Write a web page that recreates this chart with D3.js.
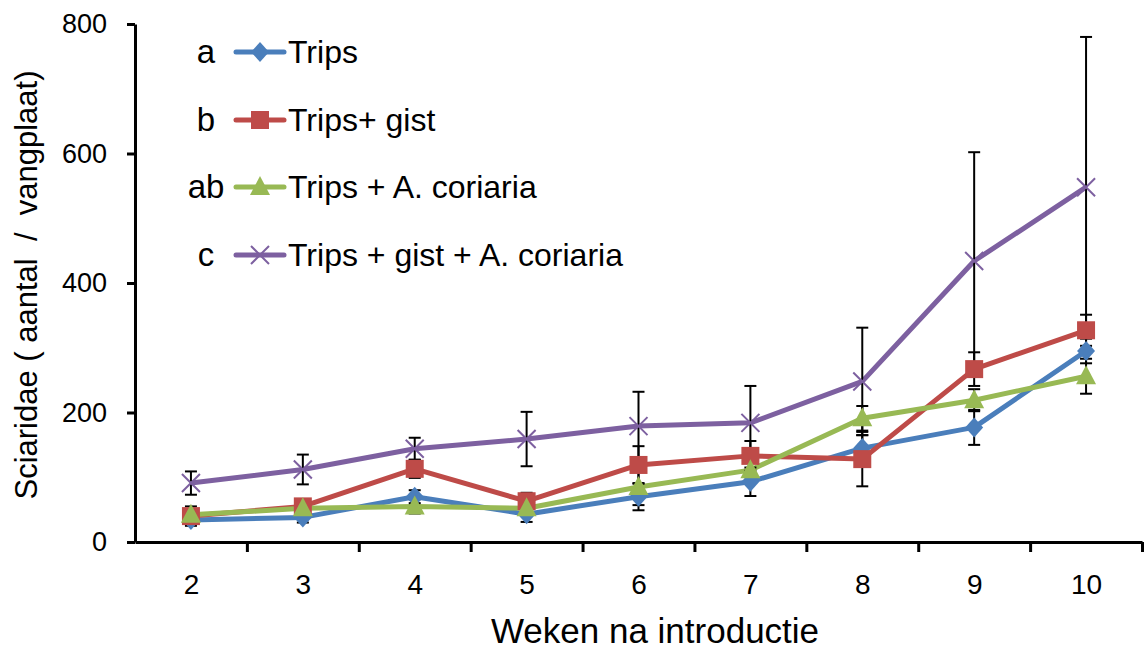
<!DOCTYPE html>
<html>
<head>
<meta charset="utf-8">
<script src="https://cdn.jsdelivr.net/npm/d3@7/dist/d3.min.js"></script>
<style>
  html, body { margin: 0; padding: 0; background: #fff; }
  svg { display: block; font-family: "Liberation Sans", Arial, sans-serif; }
  text { white-space: pre; }
</style>
</head>
<body>
<svg id="chart" width="1144" height="652"></svg>
<script>
// ---- data ----
const weeks = [2, 3, 4, 5, 6, 7, 8, 9, 10];
const yTicks = [0, 200, 400, 600, 800];

const seriesNames = ["Trips", "Trips+ gist", "Trips + A. coriaria", "Trips + gist + A. coriaria"];
const seriesLetters = ["a", "b", "ab", "c"];

const trips          = [34, 38, 70, 43, 70, 93, 145, 177, 295];
const tripsGist      = [40, 55, 113, 63, 119, 133, 128, 267, 327];
const tripsAc        = [42, 52, 55, 52, 85, 111, 191, 219, 256];
const tripsGistAc    = [91, 112, 144, 159, 179, 184, 248, 434, 548];

const tripsErr       = [6, 8, 10, 12, 21, 22, 20, 27, 19];
const tripsGistErr   = [15, 10, 14, 13, 29, 23, 42, 26, 24];
const tripsAcErr     = [6, 8, 11, 8, 28, 20, 19, 17, 27];
const tripsGistAcErr = [18, 23, 17, 42, 53, 57, 83, 168, 232];

const colors  = ["#4A7EBB", "#BE4B48", "#98B954", "#7D60A0"];
const markers = ["diamond", "square", "triangle", "x"];

(function () {
const seriesValues = [trips, tripsGist, tripsAc, tripsGistAc];
const seriesErrors = [tripsErr, tripsGistErr, tripsAcErr, tripsGistAcErr];

const series = seriesNames.map((name, i) => ({
  name, letter: seriesLetters[i], color: colors[i], marker: markers[i],
  points: weeks.map((w, j) => ({ w, v: seriesValues[i][j], e: seriesErrors[i][j] }))
}));

// ---- layout ----
const svg = d3.select("#chart");
const pl = 135, pr = 1142, pt = 24, pb = 542;
const FONT = "Liberation Sans, Arial, sans-serif";

const x = d3.scalePoint().domain(weeks).range([pl, pr]).padding(0.5);
const xb = d3.scaleLinear().domain([1.5, 10.5]).range([pl, pr]);
const y = d3.scaleLinear().domain([0, 800]).range([pb, pt]);

// y axis
const yAxis = svg.append("g").attr("transform", `translate(${pl},0)`)
  .call(d3.axisLeft(y).tickValues(yTicks).tickSize(8).tickPadding(20).tickSizeOuter(0));
yAxis.select(".domain").attr("stroke", "#000").attr("stroke-width", 3);
yAxis.selectAll(".tick line").attr("stroke", "#000").attr("stroke-width", 3);
yAxis.selectAll(".tick text").style("font-size", "27px").attr("fill", "#000")
  .style("font-family", FONT);

// x axis: boundary ticks
const xAxis = svg.append("g").attr("transform", `translate(0,${pb})`)
  .call(d3.axisBottom(xb).tickValues(d3.range(2.5, 11, 1)).tickSize(10).tickFormat("").tickSizeOuter(0));
xAxis.select(".domain").attr("stroke", "#000").attr("stroke-width", 3);
xAxis.selectAll(".tick line").attr("stroke", "#000").attr("stroke-width", 3);
// x labels
const xLab = svg.append("g").attr("transform", `translate(0,${pb})`)
  .call(d3.axisBottom(x).tickSize(0).tickPadding(32));
xLab.select(".domain").remove();
xLab.selectAll(".tick text").style("font-size", "28px").attr("fill", "#000")
  .style("font-family", FONT);

// axis titles
svg.append("text").attr("transform", `translate(37,${(pt + pb) / 2 + 2}) rotate(-90)`)
  .attr("text-anchor", "middle").style("font-size", "31px").attr("fill", "#000")
  .text("Sciaridae ( aantal  /  vangplaat)");
svg.append("text").attr("x", 655).attr("y", 643)
  .attr("text-anchor", "middle").style("font-size", "35px").attr("fill", "#000")
  .text("Weken na introductie");

// marker drawing
function drawMarker(g, type, color, cx, cy) {
  const s = 9;
  if (type === "diamond") {
    g.append("path").attr("d", `M${cx},${cy - s - 1}L${cx + s},${cy}L${cx},${cy + s + 1}L${cx - s},${cy}Z`).attr("fill", color);
  } else if (type === "square") {
    g.append("rect").attr("x", cx - s).attr("y", cy - s).attr("width", 2 * s).attr("height", 2 * s).attr("fill", color);
  } else if (type === "triangle") {
    g.append("path").attr("d", `M${cx},${cy - s - 2}L${cx + s + 1},${cy + s - 1}L${cx - s - 1},${cy + s - 1}Z`).attr("fill", color);
  } else {
    g.append("path").attr("d", `M${cx - s},${cy - s}L${cx + s},${cy + s}M${cx - s},${cy + s}L${cx + s},${cy - s}`)
      .attr("stroke", color).attr("stroke-width", 2).attr("fill", "none");
  }
}

const line = d3.line().x(d => x(d.w)).y(d => y(d.v));

// lines
series.forEach(s => {
  svg.append("path").datum(s.points).attr("d", line)
    .attr("fill", "none").attr("stroke", s.color).attr("stroke-width", 5).attr("stroke-linejoin", "round");
});

// error bars
const eg = svg.append("g").attr("stroke", "#000").attr("stroke-width", 2);
series.forEach(s => {
  s.points.forEach(p => {
    const cx = x(p.w), y1 = y(p.v + p.e), y2 = y(p.v - p.e);
    eg.append("line").attr("x1", cx).attr("x2", cx).attr("y1", y1).attr("y2", y2);
    eg.append("line").attr("x1", cx - 6).attr("x2", cx + 6).attr("y1", y1).attr("y2", y1);
    eg.append("line").attr("x1", cx - 6).attr("x2", cx + 6).attr("y1", y2).attr("y2", y2);
  });
});

// markers
series.forEach(s => {
  const g = svg.append("g");
  s.points.forEach(p => drawMarker(g, s.marker, s.color, x(p.w), y(p.v)));
});

// legend
const legRows = [52, 120, 187, 255];
series.forEach((s, i) => {
  const ly = legRows[i];
  svg.append("text").attr("x", 206).attr("y", ly + 11).attr("text-anchor", "middle")
    .style("font-size", "33px").attr("fill", "#000").text(s.letter);
  svg.append("line").attr("x1", 236).attr("x2", 284).attr("y1", ly).attr("y2", ly)
    .attr("stroke", s.color).attr("stroke-width", 5).attr("stroke-linecap", "round");
  drawMarker(svg.append("g"), s.marker, s.color, 260, ly);
  svg.append("text").attr("x", 288).attr("y", ly + 11)
    .style("font-size", "32px").attr("fill", "#000").text(s.name);
});
})();
</script>
</body>
</html>
